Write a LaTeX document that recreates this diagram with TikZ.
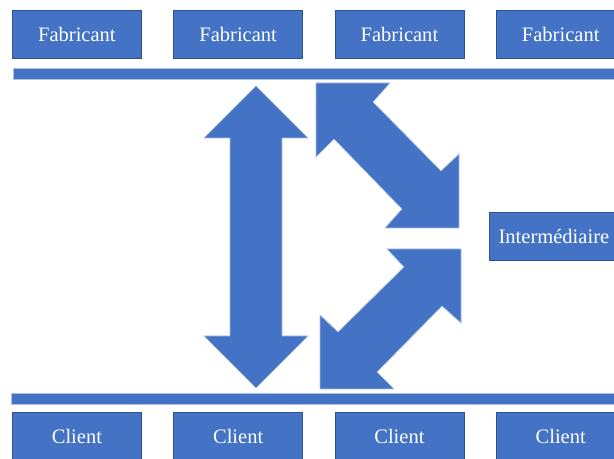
\documentclass[tikz,border=0pt]{standalone}
\usepackage{fontspec}
\setmainfont{Liberation Serif}
\newfontfamily\boxfont{Liberation Serif}
\usetikzlibrary{positioning}
\definecolor{officeblue}{HTML}{4472C4}
\definecolor{edgeblue}{HTML}{2F528F}

\begin{document}
\begin{tikzpicture}[x=0.75pt, y=-0.75pt,
        actor/.style={rectangle, fill=officeblue, draw=edgeblue, line width=0.6pt, text=white,
            minimum width=96.75pt, minimum height=36pt, inner sep=0pt,
            font=\boxfont\fontsize{15.4}{18}\selectfont},
        bar/.style={fill=officeblue, draw=officeblue!45, line width=0.5pt},
        bigarrow/.style={fill=officeblue, draw=officeblue!45, line width=0.5pt, line join=miter}]
        \useasboundingbox (0,0) rectangle (614,459);
        \clip (0,0) rectangle (614,459);
        \node[actor, anchor=north west] (fab1) at (12,10) {Fabricant};
        \node[actor, right=23.6pt of fab1] (fab2) {Fabricant};
        \node[actor, right=23.6pt of fab2] (fab3) {Fabricant};
        \node[actor, right=23.6pt of fab3] (fab4) {Fabricant};
        \node[actor, anchor=north west] (cli1) at (12,412) {Client};
        \node[actor, right=23.6pt of cli1] (cli2) {Client};
        \node[actor, right=23.6pt of cli2] (cli3) {Client};
        \node[actor, right=23.6pt of cli3] (cli4) {Client};
        \node[actor, anchor=north west] (inter) at (489,212) {Intermédiaire};
        \draw[bar] (13,68) rectangle (625,79);
        \draw[bar] (11,393) rectangle (625,404);
        \draw[bigarrow] (256,86) -- ++(52,52) -- ++(-26,0) -- ++(0,198) -- ++(26,0)
            -- (256,388) -- ++(-52,-52) -- ++(26,0) -- ++(0,-198) -- ++(-26,0) -- cycle;
        \draw[bigarrow] (316,83) -- (390,83) -- (373,102) -- (441,171) -- (459,154)
            -- (459,228) -- (385,228) -- (402,209) -- (334,139) -- (316,157) -- cycle;
        \draw[bigarrow] (461,249) -- (461,323) -- (442,306) -- (377,372) -- (394,389)
            -- (320,389) -- (320,315) -- (338,332) -- (404,267) -- (387,249) -- cycle;
    \end{tikzpicture}
\end{document}
